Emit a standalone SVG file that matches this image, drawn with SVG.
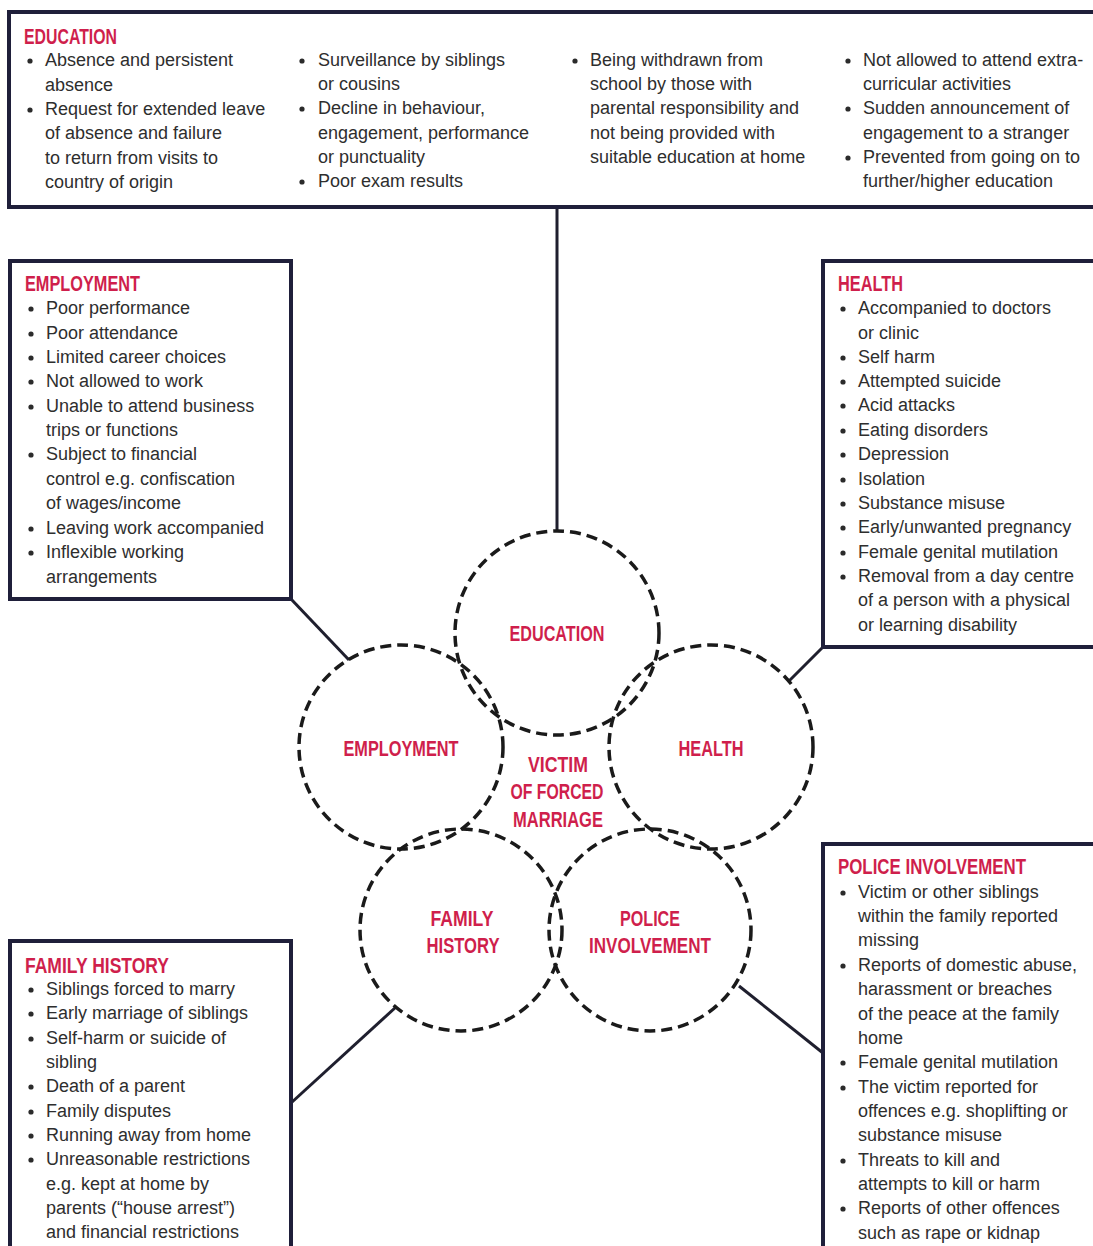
<svg xmlns="http://www.w3.org/2000/svg" width="1093" height="1246" viewBox="0 0 1093 1246">
<style>
.box{fill:#fff;stroke:#1f1f3a;stroke-width:4}
.head{font-family:"Liberation Sans",Arial,sans-serif;font-weight:bold;font-size:22px;fill:#cf1f4c}
.lbl{font-family:"Liberation Sans",Arial,sans-serif;font-weight:bold;font-size:22px;fill:#cf1f4c;text-anchor:middle}
.t{font-family:"Liberation Sans",Arial,sans-serif;font-size:18px;fill:#2e2e2e}
.b{fill:#2b2b2b}
.circ{fill:none;stroke:#1a1a1a;stroke-width:3.5;stroke-dasharray:11 6}
.con{stroke:#1f1f2e;stroke-width:3;fill:none}
</style>
<rect width="1093" height="1246" fill="#fff"/>

<g id="connectors">
<line class="con" x1="557" y1="209" x2="557" y2="531"/>
<line class="con" x1="291" y1="599" x2="349" y2="660"/>
<line class="con" x1="823" y1="647" x2="789" y2="681"/>
<line class="con" x1="291" y1="1103" x2="396" y2="1007"/>
<line class="con" x1="739" y1="986" x2="823" y2="1053"/>
</g>

<g id="circles">
<g id="c-education"><circle class="circ" cx="557" cy="633" r="102"/><text class="lbl" x="557" y="641" textLength="95" lengthAdjust="spacingAndGlyphs">EDUCATION</text></g>
<g id="c-employment"><circle class="circ" cx="401" cy="747" r="102"/><text class="lbl" x="401" y="756" textLength="115" lengthAdjust="spacingAndGlyphs">EMPLOYMENT</text></g>
<g id="c-health"><circle class="circ" cx="711" cy="747" r="102"/><text class="lbl" x="711" y="756" textLength="65" lengthAdjust="spacingAndGlyphs">HEALTH</text></g>
<g id="c-family"><circle class="circ" cx="461" cy="930" r="101"/><text class="lbl" x="462" y="926" textLength="63" lengthAdjust="spacingAndGlyphs">FAMILY</text><text class="lbl" x="463" y="953" textLength="73" lengthAdjust="spacingAndGlyphs">HISTORY</text></g>
<g id="c-police"><circle class="circ" cx="650" cy="930" r="101"/><text class="lbl" x="650" y="926" textLength="60" lengthAdjust="spacingAndGlyphs">POLICE</text><text class="lbl" x="650" y="953" textLength="122" lengthAdjust="spacingAndGlyphs">INVOLVEMENT</text></g>
<g id="c-victim"><text class="lbl" x="558" y="772" textLength="60" lengthAdjust="spacingAndGlyphs">VICTIM</text><text class="lbl" x="557" y="799" textLength="93" lengthAdjust="spacingAndGlyphs">OF FORCED</text><text class="lbl" x="558" y="827" textLength="90" lengthAdjust="spacingAndGlyphs">MARRIAGE</text></g>
</g>

<g id="box-education">
<rect class="box" x="9" y="12" width="1110" height="195"/>
<text class="head" x="24" y="44" textLength="93" lengthAdjust="spacingAndGlyphs">EDUCATION</text>
<circle class="b" cx="30" cy="61" r="2.6"/>
<text class="t" x="45" y="66">Absence and persistent</text>
<text class="t" x="45" y="91">absence</text>
<circle class="b" cx="30" cy="110" r="2.6"/>
<text class="t" x="45" y="115">Request for extended leave</text>
<text class="t" x="45" y="139">of absence and failure</text>
<text class="t" x="45" y="164">to return from visits to</text>
<text class="t" x="45" y="188">country of origin</text>
<circle class="b" cx="302" cy="61" r="2.6"/>
<text class="t" x="318" y="66">Surveillance by siblings</text>
<text class="t" x="318" y="90">or cousins</text>
<circle class="b" cx="302" cy="109" r="2.6"/>
<text class="t" x="318" y="114">Decline in behaviour,</text>
<text class="t" x="318" y="139">engagement, performance</text>
<text class="t" x="318" y="163">or punctuality</text>
<circle class="b" cx="302" cy="182" r="2.6"/>
<text class="t" x="318" y="187">Poor exam results</text>
<circle class="b" cx="575" cy="61" r="2.6"/>
<text class="t" x="590" y="66">Being withdrawn from</text>
<text class="t" x="590" y="90">school by those with</text>
<text class="t" x="590" y="114">parental responsibility and</text>
<text class="t" x="590" y="139">not being provided with</text>
<text class="t" x="590" y="163">suitable education at home</text>
<circle class="b" cx="848" cy="61" r="2.6"/>
<text class="t" x="863" y="66">Not allowed to attend extra-</text>
<text class="t" x="863" y="90">curricular activities</text>
<circle class="b" cx="848" cy="109" r="2.6"/>
<text class="t" x="863" y="114">Sudden announcement of</text>
<text class="t" x="863" y="139">engagement to a stranger</text>
<circle class="b" cx="848" cy="158" r="2.6"/>
<text class="t" x="863" y="163">Prevented from going on to</text>
<text class="t" x="863" y="187">further/higher education</text>
</g>

<g id="box-employment">
<rect class="box" x="10" y="261" width="281" height="338"/>
<text class="head" x="25" y="291" textLength="115" lengthAdjust="spacingAndGlyphs">EMPLOYMENT</text>
<circle class="b" cx="31" cy="309" r="2.6"/>
<text class="t" x="46" y="314">Poor performance</text>
<circle class="b" cx="31" cy="334" r="2.6"/>
<text class="t" x="46" y="339">Poor attendance</text>
<circle class="b" cx="31" cy="358" r="2.6"/>
<text class="t" x="46" y="363">Limited career choices</text>
<circle class="b" cx="31" cy="382" r="2.6"/>
<text class="t" x="46" y="387">Not allowed to work</text>
<circle class="b" cx="31" cy="407" r="2.6"/>
<text class="t" x="46" y="412">Unable to attend business</text>
<text class="t" x="46" y="436">trips or functions</text>
<circle class="b" cx="31" cy="455" r="2.6"/>
<text class="t" x="46" y="460">Subject to financial</text>
<text class="t" x="46" y="485">control e.g. confiscation</text>
<text class="t" x="46" y="509">of wages/income</text>
<circle class="b" cx="31" cy="529" r="2.6"/>
<text class="t" x="46" y="534">Leaving work accompanied</text>
<circle class="b" cx="31" cy="553" r="2.6"/>
<text class="t" x="46" y="558">Inflexible working</text>
<text class="t" x="46" y="583">arrangements</text>
</g>

<g id="box-health">
<rect class="box" x="823" y="261" width="300" height="386"/>
<text class="head" x="838" y="291" textLength="65" lengthAdjust="spacingAndGlyphs">HEALTH</text>
<circle class="b" cx="843" cy="309" r="2.6"/>
<text class="t" x="858" y="314">Accompanied to doctors</text>
<text class="t" x="858" y="339">or clinic</text>
<circle class="b" cx="843" cy="358" r="2.6"/>
<text class="t" x="858" y="363">Self harm</text>
<circle class="b" cx="843" cy="382" r="2.6"/>
<text class="t" x="858" y="387">Attempted suicide</text>
<circle class="b" cx="843" cy="406" r="2.6"/>
<text class="t" x="858" y="411">Acid attacks</text>
<circle class="b" cx="843" cy="431" r="2.6"/>
<text class="t" x="858" y="436">Eating disorders</text>
<circle class="b" cx="843" cy="455" r="2.6"/>
<text class="t" x="858" y="460">Depression</text>
<circle class="b" cx="843" cy="480" r="2.6"/>
<text class="t" x="858" y="485">Isolation</text>
<circle class="b" cx="843" cy="504" r="2.6"/>
<text class="t" x="858" y="509">Substance misuse</text>
<circle class="b" cx="843" cy="528" r="2.6"/>
<text class="t" x="858" y="533">Early/unwanted pregnancy</text>
<circle class="b" cx="843" cy="553" r="2.6"/>
<text class="t" x="858" y="558">Female genital mutilation</text>
<circle class="b" cx="843" cy="577" r="2.6"/>
<text class="t" x="858" y="582">Removal from a day centre</text>
<text class="t" x="858" y="606">of a person with a physical</text>
<text class="t" x="858" y="631">or learning disability</text>
</g>

<g id="box-family">
<rect class="box" x="10" y="941" width="281" height="400"/>
<text class="head" x="25" y="973" textLength="144" lengthAdjust="spacingAndGlyphs">FAMILY HISTORY</text>
<circle class="b" cx="31" cy="990" r="2.6"/>
<text class="t" x="46" y="995">Siblings forced to marry</text>
<circle class="b" cx="31" cy="1014" r="2.6"/>
<text class="t" x="46" y="1019">Early marriage of siblings</text>
<circle class="b" cx="31" cy="1039" r="2.6"/>
<text class="t" x="46" y="1044">Self-harm or suicide of</text>
<text class="t" x="46" y="1068">sibling</text>
<circle class="b" cx="31" cy="1087" r="2.6"/>
<text class="t" x="46" y="1092">Death of a parent</text>
<circle class="b" cx="31" cy="1112" r="2.6"/>
<text class="t" x="46" y="1117">Family disputes</text>
<circle class="b" cx="31" cy="1136" r="2.6"/>
<text class="t" x="46" y="1141">Running away from home</text>
<circle class="b" cx="31" cy="1160" r="2.6"/>
<text class="t" x="46" y="1165">Unreasonable restrictions</text>
<text class="t" x="46" y="1190">e.g. kept at home by</text>
<text class="t" x="46" y="1214">parents (“house arrest”)</text>
<text class="t" x="46" y="1238">and financial restrictions</text>
</g>

<g id="box-police">
<rect class="box" x="823" y="844" width="300" height="500"/>
<text class="head" x="838" y="874" textLength="188" lengthAdjust="spacingAndGlyphs">POLICE INVOLVEMENT</text>
<circle class="b" cx="843" cy="893" r="2.6"/>
<text class="t" x="858" y="898">Victim or other siblings</text>
<text class="t" x="858" y="922">within the family reported</text>
<text class="t" x="858" y="946">missing</text>
<circle class="b" cx="843" cy="966" r="2.6"/>
<text class="t" x="858" y="971">Reports of domestic abuse,</text>
<text class="t" x="858" y="995">harassment or breaches</text>
<text class="t" x="858" y="1020">of the peace at the family</text>
<text class="t" x="858" y="1044">home</text>
<circle class="b" cx="843" cy="1063" r="2.6"/>
<text class="t" x="858" y="1068">Female genital mutilation</text>
<circle class="b" cx="843" cy="1088" r="2.6"/>
<text class="t" x="858" y="1093">The victim reported for</text>
<text class="t" x="858" y="1117">offences e.g. shoplifting or</text>
<text class="t" x="858" y="1141">substance misuse</text>
<circle class="b" cx="843" cy="1161" r="2.6"/>
<text class="t" x="858" y="1166">Threats to kill and</text>
<text class="t" x="858" y="1190">attempts to kill or harm</text>
<circle class="b" cx="843" cy="1209" r="2.6"/>
<text class="t" x="858" y="1214">Reports of other offences</text>
<text class="t" x="858" y="1239">such as rape or kidnap</text>
</g>
</svg>
